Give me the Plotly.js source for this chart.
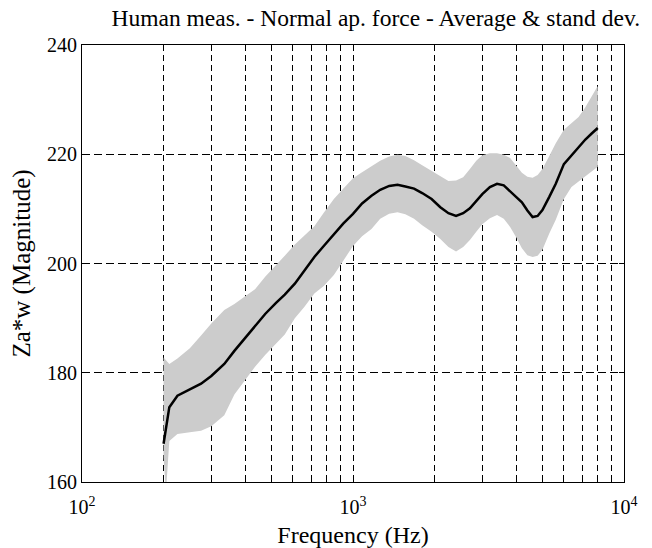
<!DOCTYPE html>
<html>
<head>
<meta charset="utf-8">
<script src="https://cdn.plot.ly/plotly-3.0.1.min.js"></script>
<style>html,body{margin:0;padding:0;background:#fff;}#chart{width:652px;height:548px;}</style>
</head>
<body>
<div id="chart"></div>
<script>
var freq = [200, 204, 210, 225, 250, 275, 300, 335, 365, 400, 435, 475, 520, 560, 610, 660, 720, 780, 850, 920, 1000, 1080, 1170, 1260, 1360, 1460, 1560, 1680, 1800, 1950, 2100, 2250, 2400, 2550, 2700, 2850, 3000, 3200, 3400, 3600, 3800, 4000, 4200, 4400, 4600, 4800, 5000, 5300, 5600, 6000, 6400, 6800, 7200, 7600, 8000];
var meanVal = [167.0, 169.8, 173.7, 175.8, 176.9, 178.0, 179.4, 181.6, 184.0, 186.4, 188.7, 190.8, 192.8, 194.3, 196.3, 198.7, 201.2, 203.2, 205.3, 207.3, 209.1, 211.0, 212.4, 213.5, 214.2, 214.4, 214.1, 213.7, 212.9, 211.8, 210.3, 209.2, 208.7, 209.2, 210.1, 211.5, 212.7, 214.0, 214.6, 214.3, 213.2, 212.3, 211.2, 209.7, 208.5, 208.7, 209.8, 212.2, 214.6, 218.2, 219.8, 221.2, 222.7, 223.8, 224.8];
var upperVal = [182.8, 182.3, 181.6, 182.6, 184.5, 186.8, 189.0, 191.5, 192.6, 194.0, 195.3, 197.6, 199.6, 201.4, 203.5, 205.0, 206.8, 209.3, 211.8, 213.7, 215.6, 216.7, 217.8, 218.8, 219.6, 219.9, 219.7, 218.9, 218.0, 217.0, 216.0, 215.1, 215.2, 215.8, 217.3, 218.8, 219.8, 220.2, 220.2, 219.9, 219.3, 218.0, 216.6, 215.9, 215.7, 216.2, 217.3, 219.7, 222.0, 224.5, 225.6, 226.8, 228.6, 230.6, 232.5];
var lowerVal = [164.5, 158.0, 167.5, 168.8, 169.1, 169.4, 170.2, 172.2, 176.0, 178.7, 181.1, 183.3, 185.3, 187.0, 190.0, 192.0, 194.5, 195.9, 197.9, 200.6, 203.2, 205.0, 206.3, 208.2, 209.1, 209.4, 209.0, 208.2, 207.0, 205.8, 204.5, 203.0, 202.2, 203.0, 204.3, 205.8, 207.2, 208.3, 208.9, 208.2, 206.7, 204.8, 202.8, 201.5, 201.2, 201.4, 202.5, 205.5, 208.0, 211.8, 214.0, 215.0, 215.9, 216.8, 217.7];

var xTickVals = [100, 1000, 10000];
var xTickText = ['10<sup>2</sup>', '10<sup>3</sup>', '10<sup>4</sup>'];
var xMinorVals = [200,300,400,500,600,700,800,900,2000,3000,4000,5000,6000,7000,8000,9000];
var yTickVals = [160, 180, 200, 220, 240];
var yTickText = ['160', '180', '200', '220', '240'];

var titleText = 'Human meas. - Normal ap. force - Average &amp; stand dev.';
var xTitle = 'Frequency (Hz)';
var yTitle = 'Za*w (Magnitude)';

var traces = [
  {x: freq, y: lowerVal, type: 'scatter', mode: 'lines', line: {width: 0, color: '#cccccc'}, hoverinfo: 'skip', showlegend: false},
  {x: freq, y: upperVal, type: 'scatter', mode: 'lines', fill: 'tonexty', fillcolor: '#cccccc', line: {width: 0, color: '#cccccc'}, showlegend: false},
  {x: freq, y: meanVal, type: 'scatter', mode: 'lines', line: {width: 2.5, color: '#000000'}, showlegend: false}
];

var fontFam = 'Liberation Serif, Times New Roman, serif';
var layout = {
  width: 652, height: 548,
  margin: {l: 82, r: 28, t: 45, b: 66},
  paper_bgcolor: '#ffffff', plot_bgcolor: '#ffffff',
  font: {family: fontFam, color: '#000000', size: 19},
  title: {text: titleText, font: {family: fontFam, size: 23.5, color: '#000'}, x: 0.542, xref: 'paper', xanchor: 'center', y: 0.967, yref: 'container', yanchor: 'middle'},
  xaxis: {
    type: 'log', range: [2, 4], tickmode: 'array', tickvals: xTickVals, ticktext: xTickText,
    ticks: 'inside', ticklen: 5, tickcolor: '#000', mirror: 'ticks', showline: true, linecolor: '#000', linewidth: 1,
    showgrid: true, gridcolor: '#000', griddash: '6px,4px', gridwidth: 1, zeroline: false,
    minor: {tickmode: 'array', tickvals: xMinorVals, ticks: 'inside', ticklen: 5, tickcolor: '#000', showgrid: true, gridcolor: '#000', griddash: '6px,4px', gridwidth: 1},
    ticklabelstandoff: 7,
    tickfont: {family: fontFam, size: 20, color: '#000'},
    title: {text: xTitle, font: {family: fontFam, size: 24, color: '#000'}, standoff: 9}
  },
  yaxis: {
    range: [160, 240], tickmode: 'array', tickvals: yTickVals, ticktext: yTickText,
    ticks: 'inside', ticklen: 5, tickcolor: '#000', mirror: 'ticks', showline: true, linecolor: '#000', linewidth: 1,
    showgrid: true, gridcolor: '#000', griddash: '8px,4px', gridwidth: 1, zeroline: false,
    tickfont: {family: fontFam, size: 20, color: '#000'},
    title: {text: yTitle, font: {family: fontFam, size: 25, color: '#000'}, standoff: 9}
  }
};
Plotly.newPlot('chart', traces, layout, {displayModeBar: false, staticPlot: true});
</script>
</body>
</html>
